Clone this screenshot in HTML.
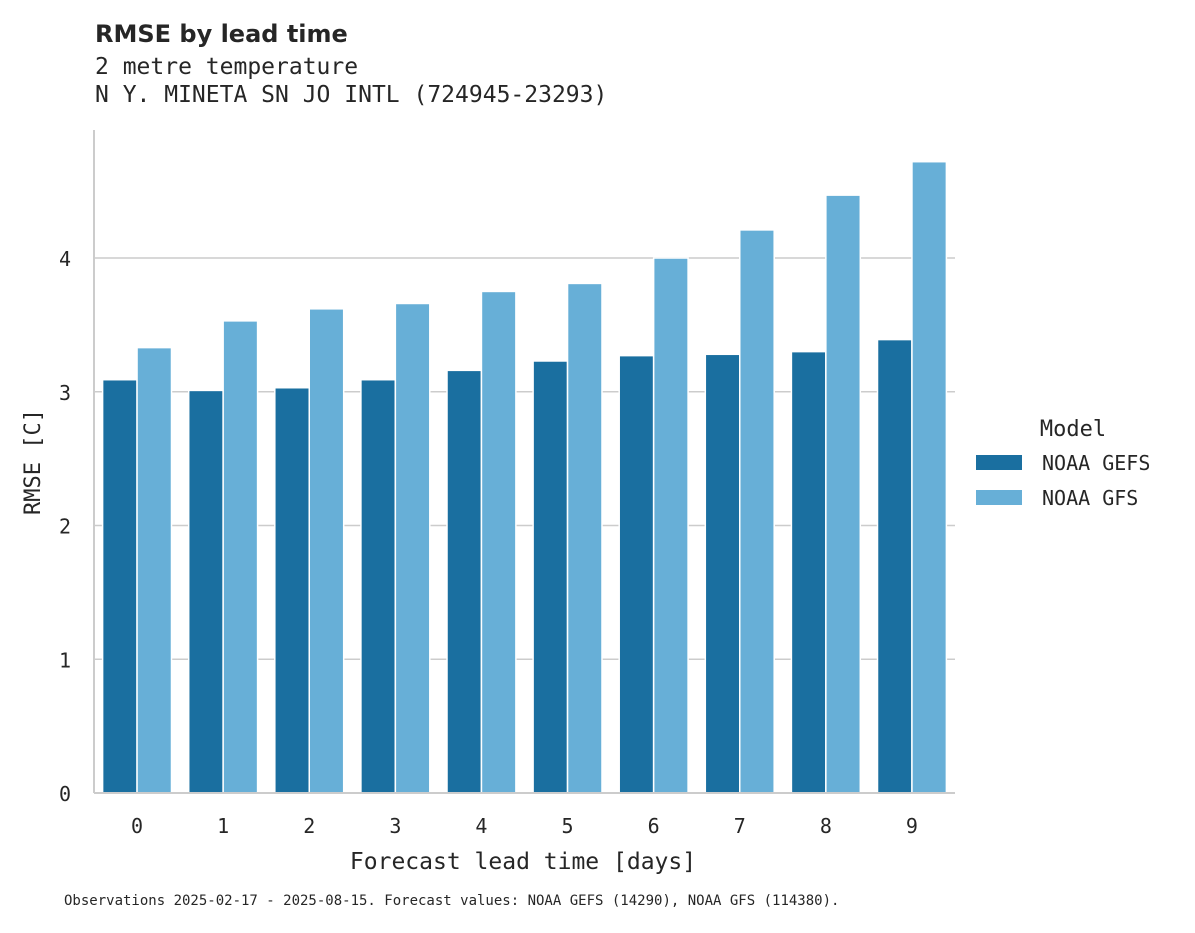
<!DOCTYPE html>
<html><head><meta charset="utf-8"><style>
body{margin:0;background:#fff;}
svg text{fill:#262626;}
.mono{font-family:"DejaVu Sans Mono","Liberation Mono",monospace;}
</style></head><body>
<svg id="chart" width="1195" height="928" xmlns="http://www.w3.org/2000/svg">
<text x="95" y="42" font-family="DejaVu Sans, Liberation Sans, sans-serif" font-weight="bold" font-size="24">RMSE by lead time</text>
<text class="mono" x="95" y="74" font-size="23">2 metre temperature</text>
<text class="mono" x="95" y="102" font-size="23">N Y. MINETA SN JO INTL (724945-23293)</text>
<g id="grid"></g>
<g id="bars"></g>
<g id="axes"></g>
<text class="mono" x="40" y="462" font-size="22" text-anchor="middle" transform="rotate(-90 40 462)">RMSE [C]</text>
<text class="mono" x="523" y="869" font-size="23" text-anchor="middle">Forecast lead time [days]</text>
<g>
<text class="mono" x="1073" y="436" font-size="22" text-anchor="middle">Model</text>
<rect x="976" y="455" width="46" height="15" fill="#1a6fa0"/>
<text class="mono" x="1042" y="470" font-size="20">NOAA GEFS</text>
<rect x="976" y="490" width="46" height="15" fill="#67afd7"/>
<text class="mono" x="1042" y="505" font-size="20">NOAA GFS</text>
</g>
<text class="mono" x="64" y="905" font-size="14">Observations 2025-02-17 - 2025-08-15. Forecast values: NOAA GEFS (14290), NOAA GFS (114380).</text>
</svg>
<script>
const categories = ["0","1","2","3","4","5","6","7","8","9"];
const gefsValues = [3.09,3.01,3.03,3.09,3.16,3.23,3.27,3.28,3.30,3.39];
const gfsValues = [3.33,3.53,3.62,3.66,3.75,3.81,4.00,4.21,4.47,4.72];
const yTicks = [0,1,2,3,4];
const NS="http://www.w3.org/2000/svg";
const x0=94,x1=955,yBase=793,unit=133.75;
const band=(x1-x0)/categories.length;
const y=v=>yBase-v*unit;
const xc=i=>x0+band*(i+0.5);
function mk(tag,attrs,parent){const e=document.createElementNS(NS,tag);for(const k in attrs)e.setAttribute(k,attrs[k]);document.getElementById(parent).appendChild(e);return e;}
yTicks.forEach(t=>{
  if(t>0){const g=mk('line',{x1:x0,x2:x1,y1:y(t),y2:y(t),stroke:'#cccccc','stroke-width':1.5},'grid');
  
  }
  const l=mk('text',{x:71,y:y(t)+8,'font-size':20,'text-anchor':'end',class:'mono'},'axes');l.textContent=t;
  
  
});
const bw=band*0.8/2;
categories.forEach((c,i)=>{
  const a=mk('rect',{x:xc(i)-bw,y:y(gefsValues[i]),width:bw,height:gefsValues[i]*unit,fill:'#1a6fa0',stroke:'#fff','stroke-width':1.5},'bars');
  
  
  const b=mk('rect',{x:xc(i),y:y(gfsValues[i]),width:bw,height:gfsValues[i]*unit,fill:'#67afd7',stroke:'#fff','stroke-width':1.5},'bars');
  
  
  const t=mk('text',{x:xc(i),y:833,'font-size':20,'text-anchor':'middle',class:'mono'},'axes');t.textContent=c;
  
  
});
const ls=mk('line',{x1:x0,x2:x0,y1:130,y2:yBase,stroke:'#cccccc','stroke-width':2},'axes');


const bs=mk('line',{x1:x0,x2:x1,y1:yBase,y2:yBase,stroke:'#cccccc','stroke-width':2},'axes');


</script>
</body></html>
